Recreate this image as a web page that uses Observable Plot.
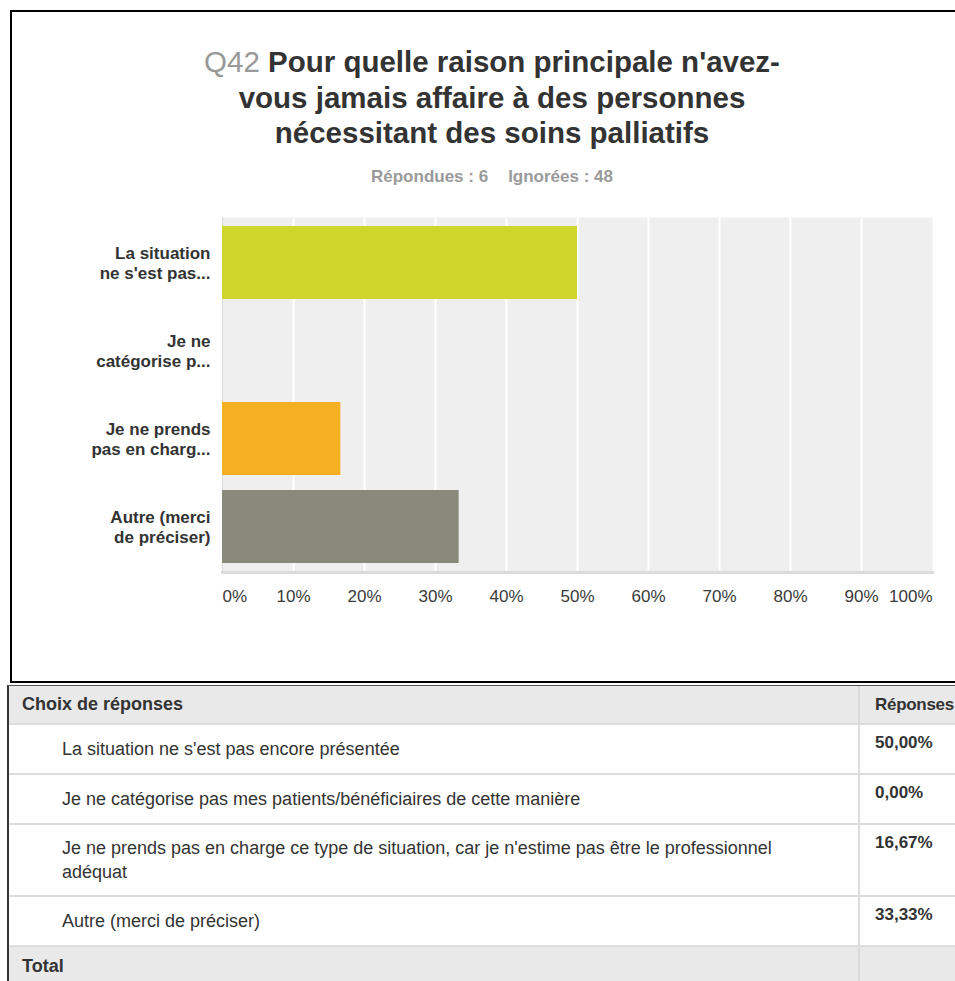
<!DOCTYPE html>
<html>
<head>
<meta charset="utf-8">
<script src="https://cdn.jsdelivr.net/npm/d3@7"></script>
<script src="https://cdn.jsdelivr.net/npm/@observablehq/plot@0.6"></script>
<style>
  html, body { margin: 0; padding: 0; background: #fff; }
  body { width: 955px; height: 981px; overflow: hidden; position: relative; font-family: "Liberation Sans", Arial, sans-serif; }
  #box { position: absolute; left: 10px; top: 10px; width: 1000px; height: 673px; border: 2px solid #000; box-sizing: border-box; }
  #title { position: absolute; left: 10px; width: 964px; top: 44px; text-align: center; font-size: 29.5px; line-height: 35.5px; font-weight: bold; color: #333; }
  #title .q { color: #999; font-weight: normal; }
  #sub { position: absolute; left: 10px; width: 964px; top: 166px; text-align: center; font-size: 17px; line-height: 22px; font-weight: bold; color: #9a9a9a; }
  #sub span + span { margin-left: 20px; }
  #chart { position: absolute; left: 0; top: 200px; }
  #wrap { position: absolute; left: 7px; top: 685px; width: 1100px; height: 400px; border-left: 2px solid #333; border-top: 1px solid #555; }
  #tbl { border-collapse: collapse; table-layout: fixed; width: 1100px; font-size: 18px; color: #333; }
  #tbl td, #tbl th { border-bottom: 2px solid #dcdcdc; padding: 0; }
  #tbl th { background: #e9e9e9; text-align: left; font-weight: bold; height: 37px; vertical-align: middle; }
  #tbl th.c1 { padding-left: 13px; }
  #tbl th.c2 { font-size: 17px; letter-spacing: -0.3px; }
  #tbl .c2 { border-left: 2px solid #dcdcdc; padding-left: 15px; }
  #tbl td.c1 { padding-left: 53px; padding-right: 40px; line-height: 24px; vertical-align: middle; }
  #tbl td.c2 { vertical-align: top; padding-top: 8px; font-weight: bold; font-size: 17px; line-height: 20px; }
  #tbl tr.total td { background: #e9e9e9; font-weight: bold; height: 38px; vertical-align: middle; padding-top: 0; }
</style>
</head>
<body>
<div id="box"></div>
<div id="title"><span class="q">Q42</span> Pour quelle raison principale n'avez-<br>vous jamais affaire à des personnes<br>nécessitant des soins palliatifs</div>
<div id="sub"><span>Répondues : 6</span><span>Ignorées : 48</span></div>
<div id="chart"></div>
<div id="wrap"><table id="tbl"></table></div>
<script>
// ---- data ----
const categories = [
  "La situation ne s'est pas encore présentée",
  "Je ne catégorise pas mes patients/bénéficiaires de cette manière",
  "Je ne prends pas en charge ce type de situation, car je n'estime pas être le professionnel adéquat",
  "Autre (merci de préciser)"
];
const shortLabels = [
  "La situation\nne s'est pas...",
  "Je ne\ncatégorise p...",
  "Je ne prends\npas en charg...",
  "Autre (merci\nde préciser)"
];
const values = [50.00, 0.00, 16.67, 33.33];
const barColors = ["#cfd52a", "#6fa8dc", "#f6af21", "#8a8a7a"];
const tickValues = [0, 10, 20, 30, 40, 50, 60, 70, 80, 90, 100];
const tickLabels = ["0%", "10%", "20%", "30%", "40%", "50%", "60%", "70%", "80%", "90%", "100%"];
const tableHeader = ["Choix de réponses", "Réponses"];
const totalLabel = "Total";

// ---- chart ----
const rows = categories.map((c, i) => ({cat: c, short: shortLabels[i], value: values[i], color: barColors[i]}));
const ticks = tickValues.map((v, i) => ({v, label: tickLabels[i]}));
const font = "Liberation Sans, Arial, sans-serif";

const plot = Plot.plot({
  width: 955,
  height: 420,
  marginTop: 17,
  marginBottom: 48,
  marginLeft: 222,
  marginRight: 23,
  style: {fontFamily: font, background: "transparent", overflow: "visible"},
  x: {domain: [0, 100], axis: null},
  y: {domain: categories, axis: null, paddingInner: 0.1685, paddingOuter: 0.0787},
  color: {type: "identity"},
  marks: [
    Plot.frame({fill: "#efefef", stroke: null}),
    Plot.ruleX(tickValues.filter(v => v > 0 && v < 100), {x: d => d, stroke: "#fff", strokeWidth: 2}),
    Plot.frame({anchor: "left", stroke: "#dadada", strokeWidth: 1}),
    Plot.barX(rows, {y: "cat", x: "value", fill: "color"}),
    Plot.frame({anchor: "bottom", stroke: "#dcdcdc", strokeWidth: 3}),
    Plot.text(rows, {y: "cat", text: "short", frameAnchor: "left", dx: -12, textAnchor: "end",
      fontSize: 17, fontWeight: "bold", fill: "#333", lineHeight: 20 / 17}),
    Plot.text(ticks.filter(d => d.v === 0), {x: "v", text: "label", frameAnchor: "bottom", dy: 29, textAnchor: "start", fontSize: 17, fill: "#3a3a3a"}),
    Plot.text(ticks.filter(d => d.v > 0 && d.v < 100), {x: "v", text: "label", frameAnchor: "bottom", dy: 29, textAnchor: "middle", fontSize: 17, fill: "#3a3a3a"}),
    Plot.text(ticks.filter(d => d.v === 100), {x: "v", text: "label", frameAnchor: "bottom", dy: 29, textAnchor: "end", fontSize: 17, fill: "#3a3a3a"})
  ]
});
document.getElementById("chart").appendChild(plot);

// ---- table ----
const fmt = v => v.toFixed(2).replace(".", ",") + "%";
const tbl = document.getElementById("tbl");
const colgroup = document.createElement("colgroup");
colgroup.innerHTML = '<col style="width:850px"><col style="width:250px">';
tbl.appendChild(colgroup);
const head = document.createElement("tr");
head.innerHTML = `<th class="c1">${tableHeader[0]}</th><th class="c2">${tableHeader[1]}</th>`;
tbl.appendChild(head);
const rowHeights = [48, 48, 70, 48];
categories.forEach((c, i) => {
  const tr = document.createElement("tr");
  const td1 = document.createElement("td");
  td1.className = "c1";
  td1.style.height = rowHeights[i] + "px";
  td1.textContent = c;
  const td2 = document.createElement("td");
  td2.className = "c2";
  td2.textContent = fmt(values[i]);
  tr.appendChild(td1); tr.appendChild(td2);
  tbl.appendChild(tr);
});
const tot = document.createElement("tr");
tot.className = "total";
tot.innerHTML = `<td class="c1" style="padding-left:13px">${totalLabel}</td><td class="c2"></td>`;
tbl.appendChild(tot);
</script>
</body>
</html>
